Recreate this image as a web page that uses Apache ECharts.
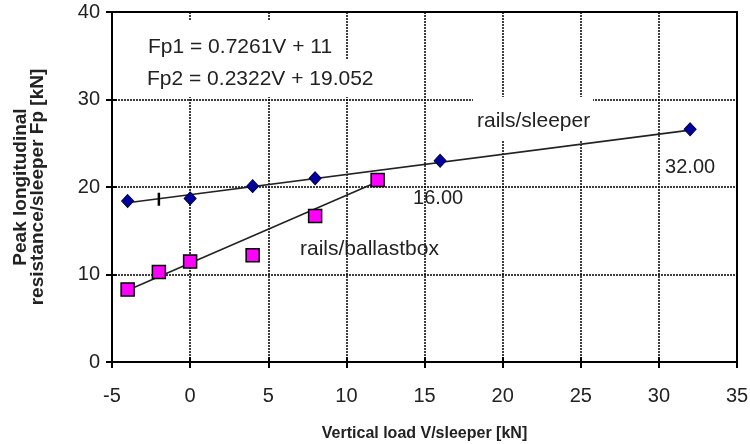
<!DOCTYPE html>
<html><head><meta charset="utf-8">
<script src="https://cdn.jsdelivr.net/npm/echarts@6/dist/echarts.min.js"></script>
<style>html,body{margin:0;padding:0;background:#fff}#c{width:750px;height:444px}</style>
</head><body><div id="c"></div>
<script>
// Data
const sleeperV = [-4, 0, 4, 8, 16, 32];
const sleeperFp = [18.4, 18.7, 20.1, 21.0, 23.0, 26.6];
const ballastV = [-4, -2, 0, 4, 8, 12];
const ballastFp = [8.3, 10.3, 11.5, 12.2, 16.7, 20.8];
const sleeperTrendV = [-4, 32];
const sleeperTrendFp = [18.2, 26.5];
const ballastTrendV = [-4, 12];
const ballastTrendFp = [8.2, 20.6];
const markerPoint = [-2, 18.6];
const pointLabels = {16: '16.00', 32: '32.00'};
const xTicks = [-5, 0, 5, 10, 15, 20, 25, 30, 35];
const yTicks = [0, 10, 20, 30, 40];

const FONT = '"Liberation Sans", Arial, sans-serif';
const chart = echarts.init(document.getElementById('c'));

const sleeperData = sleeperV.map((v, i) => {
  const item = { value: [v, sleeperFp[i]] };
  if (pointLabels[v]) {
    item.label = { show: true, formatter: pointLabels[v], position: 'bottom', distance: 21,
      color: '#222', fontSize: 20, fontFamily: FONT, offset: v === 16 ? [-2, 0] : [0, 0] };
  }
  return item;
});

const xBase = { type: 'value', min: xTicks[0], max: xTicks[xTicks.length - 1], interval: 5 };
const yBase = { type: 'value', min: yTicks[0], max: yTicks[yTicks.length - 1], interval: 10 };
const tickOnly = {
  axisLine: { show: false, onZero: false },
  axisTick: { show: true, inside: true, length: 5, lineStyle: { color: '#000', width: 2 } },
  axisLabel: { show: false }, splitLine: { show: false }
};

chart.setOption({
  animation: false,
  backgroundColor: '#fff',
  grid: { left: 112, right: 13, top: 12, bottom: 82, containLabel: false, outerBoundsMode: 'none',
    show: true, borderColor: '#000', borderWidth: 2 },
  xAxis: [Object.assign({}, xBase, {
    name: 'Vertical load V/sleeper [kN]', nameLocation: 'middle', nameGap: 64,
    nameTextStyle: { fontFamily: FONT, fontSize: 16, fontWeight: 'bold', color: '#222' },
    axisLine: { onZero: false, lineStyle: { color: '#000', width: 2 } },
    axisTick: { show: true, length: 6, lineStyle: { color: '#000', width: 2 } },
    axisLabel: { fontFamily: FONT, fontSize: 20, color: '#222', margin: 24 },
    splitLine: { show: true, lineStyle: { type: [2, 1], color: '#000', width: 1.5 } }
  }), Object.assign({}, xBase, tickOnly, { position: 'bottom' })],
  yAxis: [Object.assign({}, yBase, {
    name: 'Peak longitudinal\nresistance/sleeper Fp [kN]', nameLocation: 'middle', nameGap: 66,
    nameTextStyle: { fontFamily: FONT, fontSize: 19, fontWeight: 'bold', color: '#222', lineHeight: 17 },
    axisLine: { onZero: false, lineStyle: { color: '#000', width: 2 } },
    axisTick: { show: true, length: 6, lineStyle: { color: '#000', width: 2 } },
    axisLabel: { fontFamily: FONT, fontSize: 20, color: '#222', margin: 12 },
    splitLine: { show: true, lineStyle: { type: [2, 1], color: '#000', width: 1.5 } }
  }), Object.assign({}, yBase, tickOnly, { position: 'left' })],
  graphic: [
    { type: 'rect', shape: { x: 122, y: 20, width: 219, height: 40 }, style: { fill: '#fff' }, z: 5 },
    { type: 'rect', shape: { x: 122, y: 60, width: 262, height: 37 }, style: { fill: '#fff' }, z: 5 },
    { type: 'rect', shape: { x: 473, y: 97, width: 120, height: 43 }, style: { fill: '#fff' }, z: 5 },
    { type: 'text', left: 148, top: 37, z: 6, style: { text: 'Fp1 = 0.7261V + 11', font: '21px ' + FONT, fill: '#222' } },
    { type: 'text', left: 147, top: 69, z: 6, style: { text: 'Fp2 = 0.2322V + 19.052', font: '21px ' + FONT, fill: '#222' } },
    { type: 'text', left: 477, top: 111, z: 6, style: { text: 'rails/sleeper', font: '21px ' + FONT, fill: '#222' } },
    { type: 'text', left: 300, top: 239, z: 6, style: { text: 'rails/ballastbox', font: '21px ' + FONT, fill: '#222' } }
  ],
  series: [
    { type: 'line', data: sleeperTrendV.map((v, i) => [v, sleeperTrendFp[i]]), symbol: 'none',
      lineStyle: { color: '#222', width: 1.6 }, z: 7 },
    { type: 'line', data: ballastTrendV.map((v, i) => [v, ballastTrendFp[i]]), symbol: 'none',
      lineStyle: { color: '#222', width: 1.6 }, z: 7 },
    { type: 'scatter', data: sleeperData, symbol: 'diamond', symbolSize: [12, 13],
      itemStyle: { color: '#0000A0', borderColor: '#000033', borderWidth: 1, opacity: 1 }, z: 8 },
    { type: 'scatter', data: ballastV.map((v, i) => [v, ballastFp[i]]), symbol: 'rect', symbolSize: 13,
      itemStyle: { color: '#FF00FF', borderColor: '#000', borderWidth: 1.5, opacity: 1 }, z: 8 },
    { type: 'scatter', data: [markerPoint], symbol: 'rect', symbolSize: [2.5, 13],
      itemStyle: { color: '#000', opacity: 1 }, z: 8 }
  ]
});
</script></body></html>
